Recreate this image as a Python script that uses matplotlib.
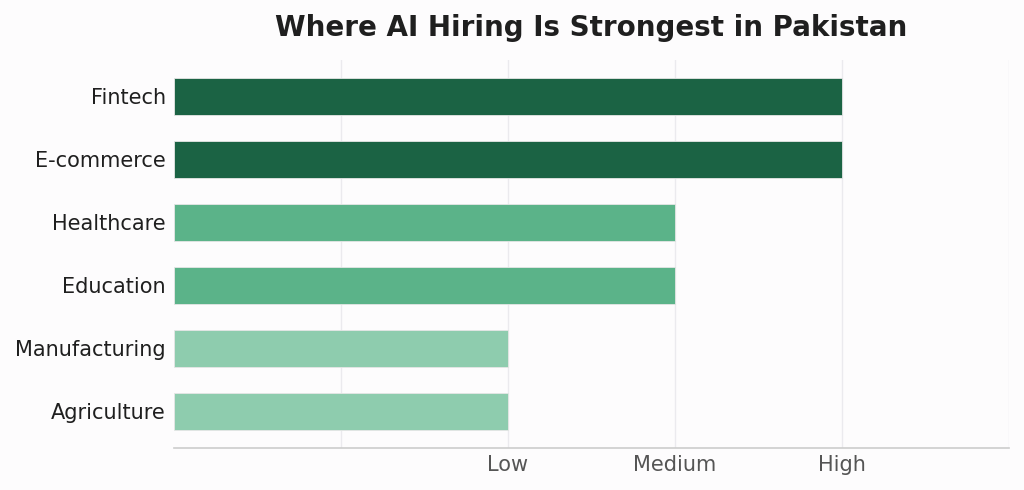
import matplotlib.pyplot as plt

# data
sectors = ["Fintech", "E-commerce", "Healthcare", "Education", "Manufacturing", "Agriculture"]
levels = [4, 4, 3, 3, 2, 2]
level_ticks = [2, 3, 4]
level_names = ["Low", "Medium", "High"]
level_colors = {4: "#1B6344", 3: "#5BB389", 2: "#8ECCAE"}

bg = "#FDFCFD"
fig = plt.figure(figsize=(10.24, 4.9), dpi=100, facecolor=bg)
ax = fig.add_axes([0.170, 0.0857, 0.815, 0.792], facecolor=bg)

ypos = list(range(len(sectors)))
ax.barh(ypos, levels, height=0.6, color=[level_colors[v] for v in levels],
        edgecolor="#E6E6E6", linewidth=0.6, zorder=3)

ax.set_xlim(0, 5)
ax.set_ylim(len(sectors) - 0.42, -0.58)
ax.set_yticks(ypos)
ax.set_yticklabels(sectors, fontsize=15, color="#1F1F1F")
ax.set_xticks(level_ticks)
ax.set_xticklabels(level_names, fontsize=15, color="#555555")

# light vertical grid at every unit
for gx in [1, 2, 3, 4, 5]:
    ax.axvline(gx, color="#EBEAEE", linewidth=1, zorder=0)
ax.tick_params(axis="both", which="both", length=0)
ax.tick_params(axis="x", pad=5)
ax.tick_params(axis="y", pad=6)

for s in ["top", "right", "left"]:
    ax.spines[s].set_visible(False)
ax.spines["bottom"].set_color("#CCCCCC")
ax.spines["bottom"].set_linewidth(1.2)

fig.suptitle("Where AI Hiring Is Strongest in Pakistan", fontsize=20, fontweight="bold",
             color="#1F1F1F", x=0.577, y=0.972)

fig.savefig("out.png", dpi=100, facecolor=bg)
